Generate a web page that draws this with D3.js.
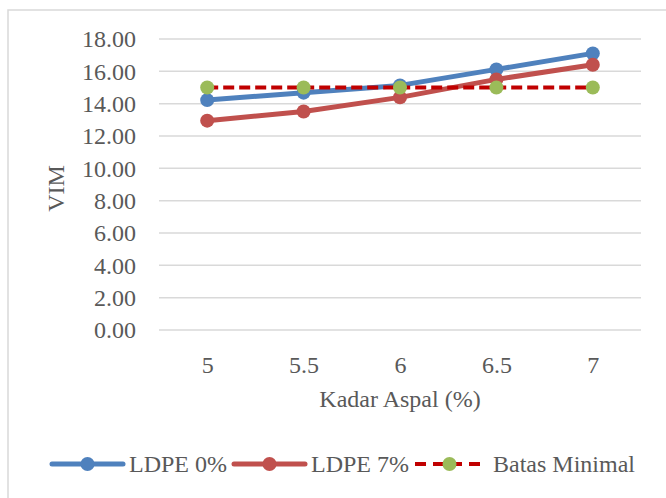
<!DOCTYPE html>
<html>
<head>
<meta charset="utf-8">
<script src="https://cdn.jsdelivr.net/npm/d3@7"></script>
<style>
  body { margin: 0; background: #fff; }
  text { font-family: "Liberation Serif", "DejaVu Serif", serif; fill: #595959; }
</style>
</head>
<body>
<div id="chart-container"></div>
<script>
// Data
const kadarAspal = ["5", "5.5", "6", "6.5", "7"];
const ldpe0 = [14.22, 14.68, 15.13, 16.12, 17.11];
const ldpe7 = [12.95, 13.52, 14.39, 15.50, 16.41];
const batasMinimal = [15, 15, 15, 15, 15];
const yTicks = [0, 2, 4, 6, 8, 10, 12, 14, 16, 18];

const width = 666, height = 498;
const plot = { left: 159, right: 641, top: 39, bottom: 330 };

const svg = d3.select("#chart-container")
    .append("svg")
    .attr("width", width)
    .attr("height", height);

// Chart area border
svg.append("rect")
    .attr("x", 8).attr("y", 10)
    .attr("width", 700).attr("height", 520)
    .attr("fill", "#fff")
    .attr("stroke", "#d9d9d9")
    .attr("stroke-width", 1.5);

const x = d3.scalePoint()
    .domain(kadarAspal)
    .range([plot.left, plot.right])
    .padding(0.5);

const y = d3.scaleLinear()
    .domain([0, 18])
    .range([plot.bottom, plot.top]);

// Gridlines
svg.append("g")
    .selectAll("line")
    .data(yTicks)
    .join("line")
    .attr("x1", plot.left)
    .attr("x2", plot.right)
    .attr("y1", d => y(d))
    .attr("y2", d => y(d))
    .attr("stroke", "#d9d9d9")
    .attr("stroke-width", 1.5);

// Y axis
const yAxis = svg.append("g")
    .attr("transform", `translate(${plot.left},0)`)
    .call(d3.axisLeft(y).tickValues(yTicks).tickFormat(d3.format(".2f")).tickSize(0).tickPadding(23));
yAxis.select(".domain").remove();
yAxis.selectAll("text")
    .style("font-size", "24px")
    .attr("fill", "#595959");

// X axis
const xAxis = svg.append("g")
    .attr("transform", `translate(0,${plot.bottom})`)
    .call(d3.axisBottom(x).tickSize(0).tickPadding(26));
xAxis.select(".domain").remove();
xAxis.selectAll("text")
    .style("font-size", "24px")
    .attr("fill", "#595959");

// Axis titles
svg.append("text")
    .attr("x", (plot.left + plot.right) / 2)
    .attr("y", 407)
    .attr("text-anchor", "middle")
    .style("font-size", "24px")
    .text("Kadar Aspal (%)");

svg.append("text")
    .attr("transform", `translate(64,${(plot.top + plot.bottom) / 2 + 4}) rotate(-90)`)
    .attr("text-anchor", "middle")
    .style("font-size", "24px")
    .text("VIM");

// Series
const series = [
    { name: "LDPE 0%", values: ldpe0, color: "#4f81bd", marker: "#4f81bd", dash: null },
    { name: "LDPE 7%", values: ldpe7, color: "#c0504d", marker: "#c0504d", dash: null },
    { name: "Batas Minimal", values: batasMinimal, color: "#c00000", marker: "#9bbb59", dash: "11,5" }
];

const line = d3.line()
    .x((d, i) => x(kadarAspal[i]))
    .y(d => y(d));

series.forEach(s => {
    svg.append("path")
        .datum(s.values)
        .attr("fill", "none")
        .attr("stroke", s.color)
        .attr("stroke-width", s.dash ? 4 : 5)
        .attr("stroke-linejoin", "round")
        .attr("stroke-dasharray", s.dash)
        .attr("d", line);

    svg.append("g")
        .selectAll("circle")
        .data(s.values)
        .join("circle")
        .attr("cx", (d, i) => x(kadarAspal[i]))
        .attr("cy", d => y(d))
        .attr("r", 7)
        .attr("fill", s.marker);
});

// Legend
const legendY = 464;
const legendItems = [
    { s: series[0], x0: 52, x1: 123, tx: 129 },
    { s: series[1], x0: 234, x1: 305, tx: 311 },
    { s: series[2], x0: 415, x1: 484, tx: 493 }
];

legendItems.forEach(item => {
    const g = svg.append("g");
    g.append("line")
        .attr("x1", item.x0).attr("x2", item.x1)
        .attr("y1", legendY).attr("y2", legendY)
        .attr("stroke", item.s.color)
        .attr("stroke-width", item.s.dash ? 4 : 5)
        .attr("stroke-linecap", item.s.dash ? "butt" : "round")
        .attr("stroke-dasharray", item.s.dash ? "11,7" : null);
    g.append("circle")
        .attr("cx", (item.x0 + item.x1) / 2)
        .attr("cy", legendY)
        .attr("r", 7)
        .attr("fill", item.s.marker);
    g.append("text")
        .attr("x", item.tx)
        .attr("y", legendY + 8)
        .style("font-size", "24px")
        .text(item.s.name);
});
</script>
</body>
</html>
